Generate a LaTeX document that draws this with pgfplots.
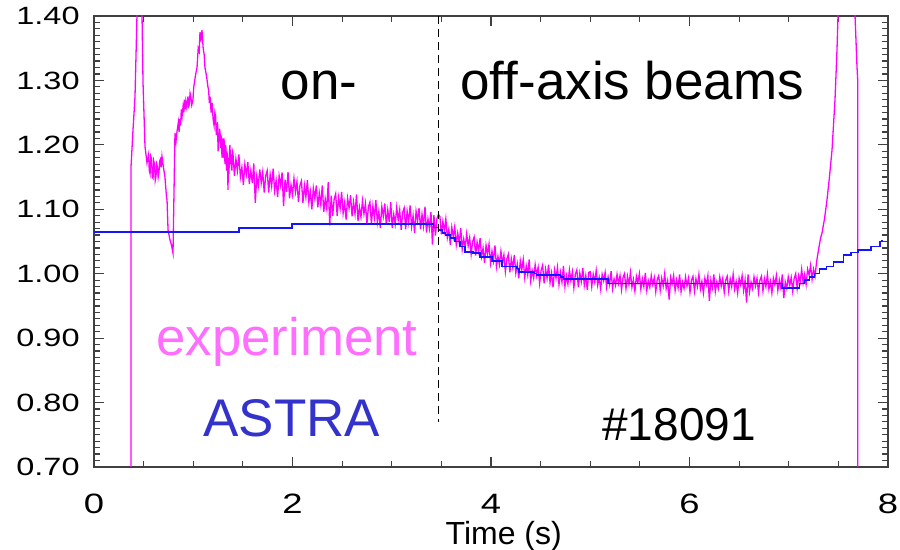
\documentclass[border=0pt]{standalone}
\usepackage{pgfplots}
\pgfplotsset{compat=1.18}
\usepackage{fontspec}
\setmainfont{Liberation Sans}
\newfontfamily\tickfont{Liberation Sans}[FakeStretch=1.3]
\definecolor{expmag}{RGB}{255,0,255}
\definecolor{exptext}{RGB}{255,110,255}
\definecolor{astrablue}{RGB}{20,20,255}
\definecolor{astratext}{RGB}{51,51,204}
\begin{document}
\begin{tikzpicture}
\begin{axis}[
  name=ax, at={(0,0)}, anchor=south west,
  scale only axis, width=397pt, height=225.5pt,
  xmin=0, xmax=8, ymin=0.70, ymax=1.40,
  xtick={0,2,4,6,8}, minor x tick num=3,
  ytick={0.7,0.8,0.9,1.0,1.1,1.2,1.3,1.4}, minor y tick num=9,
  tick align=inside,
  major tick length=5pt, minor tick length=3pt,
  axis line style={black!75, line width=0.6pt},
  every tick/.style={black!75, line width=0.6pt},
  /pgf/number format/assume math mode=true,
  yticklabel style={font=\tickfont\fontsize{12.5}{14}\selectfont, inner sep=0pt, anchor=east, xshift=-7pt,
    /pgf/number format/.cd, fixed, fixed zerofill, precision=2},
  xticklabel style={font=\tickfont\fontsize{14}{16}\selectfont, inner sep=0pt, anchor=north, yshift=-13.5pt},
  xlabel={Time (s)},
  xlabel style={at={(axis description cs:0.516,0)}, anchor=base, inner sep=0pt, yshift=-39pt,
    font=\fontsize{16}{18}\selectfont},
]
% experiment
\addplot[expmag, line width=0.65pt] coordinates {
(0.373,0.60) (0.373,1.166) (0.393,1.223) (0.413,1.274) (0.433,1.40) (0.44,1.50) (0.47,1.50)
(0.484,1.40) (0.494,1.296) (0.514,1.197) (0.534,1.172)
(0.55,1.185) (0.557,1.160) (0.565,1.155) (0.572,1.182) (0.58,1.178) (0.587,1.150) (0.595,1.148)
(0.602,1.175) (0.61,1.170) (0.617,1.145) (0.625,1.152) (0.632,1.170) (0.64,1.165) (0.647,1.150)
(0.655,1.158) (0.662,1.175) (0.67,1.178) (0.677,1.165) (0.685,1.182) (0.70,1.165) (0.715,1.150)
(0.73,1.12) (0.736,1.114) (0.746,1.068) (0.756,1.06) (0.766,1.052) (0.78,1.045) (0.796,1.032)
(0.80,1.07) (0.816,1.218) (0.826,1.205) (0.836,1.22) (0.85,1.235) (0.857,1.22) (0.865,1.24)
(0.872,1.23) (0.88,1.255) (0.888,1.245) (0.897,1.259) (0.905,1.25) (0.91,1.27) (0.918,1.255)
(0.925,1.268) (0.935,1.258) (0.947,1.275) (0.955,1.26) (0.96,1.262) (0.968,1.28) (0.975,1.275)
(0.985,1.262) (0.997,1.27) (1.005,1.29) (1.015,1.30) (1.025,1.31) (1.038,1.32) (1.05,1.35)
(1.06,1.345) (1.068,1.375) (1.078,1.365) (1.088,1.378) (1.10,1.35) (1.11,1.34) (1.118,1.32)
(1.13,1.31) (1.14,1.30) (1.148,1.29) (1.155,1.285) (1.162,1.265) (1.169,1.275) (1.18,1.25)
(1.19,1.265) (1.20,1.24) (1.21,1.23) (1.218,1.25) (1.225,1.245) (1.232,1.215) (1.239,1.228)
(1.245,1.235) (1.25,1.19) (1.255,1.21) (1.26,1.205) (1.265,1.225) (1.27,1.22) (1.275,1.195)
(1.28,1.215) (1.285,1.20) (1.29,1.18) (1.295,1.21) (1.30,1.197) (1.305,1.18) (1.31,1.21)
(1.315,1.19) (1.32,1.17) (1.325,1.20) (1.33,1.195) (1.335,1.16) (1.34,1.19) (1.345,1.175)
(1.35,1.13) (1.355,1.18) (1.36,1.155) (1.365,1.19) (1.37,1.20) (1.375,1.17) (1.38,1.185)
(1.385,1.165) (1.39,1.16) (1.395,1.19)
(1.400,1.187) (1.415,1.152) (1.430,1.178) (1.445,1.160) (1.460,1.185) (1.475,1.150) (1.490,1.165)
(1.505,1.138) (1.520,1.170) (1.535,1.154) (1.550,1.173) (1.565,1.139) (1.580,1.160) (1.595,1.141)
(1.610,1.171) (1.625,1.110) (1.640,1.151) (1.655,1.136) (1.670,1.162) (1.685,1.141) (1.700,1.158)
(1.715,1.126) (1.730,1.152) (1.745,1.160) (1.760,1.126) (1.775,1.154) (1.790,1.136) (1.805,1.163)
(1.820,1.129) (1.835,1.145) (1.850,1.119) (1.865,1.152) (1.880,1.137) (1.895,1.157) (1.910,1.105)
(1.925,1.146) (1.940,1.127) (1.955,1.158) (1.970,1.117) (1.985,1.138) (2.000,1.123) (2.015,1.148)
(2.030,1.127) (2.045,1.143) (2.060,1.111) (2.075,1.137) (2.090,1.144) (2.105,1.110) (2.120,1.137)
(2.135,1.119) (2.150,1.145) (2.165,1.111) (2.180,1.127) (2.195,1.100) (2.210,1.133) (2.225,1.117)
(2.240,1.137) (2.255,1.103) (2.270,1.125) (2.285,1.107) (2.300,1.137) (2.315,1.096) (2.330,1.116)
(2.345,1.101) (2.360,1.142) (2.375,1.075) (2.390,1.121) (2.405,1.090) (2.420,1.116) (2.435,1.124)
(2.450,1.090) (2.465,1.118) (2.480,1.101) (2.495,1.127) (2.510,1.094) (2.525,1.110) (2.540,1.084)
(2.555,1.117) (2.570,1.102) (2.585,1.122) (2.600,1.089) (2.615,1.111) (2.630,1.093) (2.645,1.123)
(2.660,1.082) (2.675,1.103) (2.690,1.088) (2.705,1.113) (2.720,1.093) (2.735,1.109) (2.750,1.077)
(2.765,1.104) (2.780,1.111) (2.795,1.077) (2.810,1.105) (2.825,1.087) (2.840,1.114) (2.855,1.080)
(2.870,1.097) (2.885,1.071) (2.900,1.104) (2.915,1.089) (2.930,1.109) (2.945,1.076) (2.960,1.099)
(2.975,1.080) (2.990,1.111) (3.005,1.071) (3.020,1.092) (3.035,1.077) (3.050,1.103) (3.065,1.083)
(3.080,1.099) (3.095,1.068) (3.110,1.095) (3.125,1.102) (3.140,1.069) (3.155,1.097) (3.170,1.080)
(3.185,1.106) (3.200,1.073) (3.215,1.090) (3.230,1.063) (3.245,1.097) (3.260,1.082) (3.275,1.102)
(3.290,1.069) (3.305,1.092) (3.320,1.074) (3.335,1.104) (3.350,1.064) (3.365,1.085) (3.380,1.070)
(3.395,1.096) (3.410,1.045) (3.425,1.091) (3.440,1.059) (3.455,1.085) (3.470,1.092)
(3.485,1.089) (3.500,1.061) (3.515,1.081) (3.530,1.066) (3.545,1.085) (3.560,1.056) (3.575,1.069)
(3.590,1.045) (3.605,1.072) (3.620,1.057) (3.635,1.073) (3.650,1.045) (3.665,1.063) (3.680,1.048)
(3.695,1.071) (3.710,1.038) (3.725,1.054) (3.740,1.041) (3.755,1.062) (3.770,1.043) (3.785,1.056)
(3.800,1.030) (3.815,1.050) (3.830,1.057) (3.845,1.028) (3.860,1.049) (3.875,1.035) (3.890,1.055)
(3.905,1.027) (3.920,1.040) (3.935,1.017) (3.950,1.044) (3.965,1.030) (3.980,1.046) (3.995,1.017)
(4.010,1.035) (4.025,1.020) (4.040,1.044) (4.055,1.011) (4.070,1.027) (4.085,1.014) (4.100,1.035)
(4.115,1.016) (4.130,1.029) (4.145,1.003) (4.160,1.023) (4.175,1.030) (4.190,1.002) (4.205,1.023)
(4.220,1.009) (4.235,1.029) (4.250,1.001) (4.265,1.015) (4.280,0.993) (4.295,1.020) (4.310,1.006)
(4.325,1.022) (4.340,0.994) (4.355,1.012) (4.370,0.998) (4.385,1.022) (4.400,0.989) (4.415,1.005)
(4.430,0.993) (4.445,1.014) (4.460,0.997) (4.475,1.010) (4.490,0.985) (4.505,1.005) (4.520,1.013)
(4.535,0.985) (4.550,1.007) (4.565,0.993) (4.580,1.014) (4.595,0.986) (4.610,1.001) (4.625,0.979)
(4.640,1.006) (4.655,0.993) (4.670,1.010) (4.685,0.983) (4.700,1.002) (4.715,0.987) (4.730,1.012)
(4.745,0.980) (4.760,0.997) (4.775,0.984) (4.790,1.006) (4.805,0.989) (4.820,1.003) (4.835,0.978)
(4.850,0.999) (4.865,1.006) (4.880,0.979) (4.895,1.001) (4.910,0.988) (4.925,1.009) (4.940,0.982)
(4.955,0.997) (4.970,0.975) (4.985,1.002)
(5.000,1.003) (5.015,0.980) (5.030,0.999) (5.045,0.987) (5.060,1.005) (5.075,0.982) (5.090,0.994)
(5.105,0.976) (5.120,0.999) (5.135,0.989) (5.150,1.002) (5.165,0.979) (5.180,0.995) (5.195,0.983)
(5.210,1.004) (5.225,0.977) (5.240,0.992) (5.255,0.982) (5.270,0.999) (5.285,0.985) (5.300,0.997)
(5.315,0.975) (5.330,0.994) (5.345,1.000) (5.360,0.977) (5.375,0.996) (5.390,0.983) (5.405,1.002)
(5.420,0.979) (5.435,0.991) (5.450,0.973) (5.465,0.996) (5.480,0.986) (5.495,1.000) (5.510,0.976)
(5.525,0.992) (5.540,0.980) (5.555,1.001) (5.570,0.974) (5.585,0.989) (5.600,0.979) (5.615,0.997)
(5.630,0.983) (5.645,0.994) (5.660,0.972) (5.675,0.991) (5.690,0.997) (5.705,0.974) (5.720,0.993)
(5.735,0.981) (5.750,1.000) (5.765,0.977) (5.780,0.989) (5.795,0.960) (5.810,0.994) (5.825,0.984)
(5.840,0.997) (5.855,0.974) (5.870,0.990) (5.885,0.978) (5.900,0.999) (5.915,0.972) (5.930,0.987)
(5.945,0.977) (5.960,0.995) (5.975,0.981) (5.990,0.993) (6.005,0.971) (6.020,0.990) (6.035,0.996)
(6.050,0.973) (6.065,0.992) (6.080,0.980) (6.095,0.999) (6.110,0.976) (6.125,0.988) (6.140,0.970)
(6.155,0.993) (6.170,0.983) (6.185,0.997) (6.200,0.958) (6.215,0.990) (6.230,0.978) (6.245,0.999)
(6.260,0.972) (6.275,0.987) (6.290,0.977) (6.305,0.995) (6.320,0.981) (6.335,0.993) (6.350,0.971)
(6.365,0.990) (6.380,0.996) (6.395,0.973) (6.410,0.992) (6.425,0.980) (6.440,0.999) (6.455,0.976)
(6.470,0.988) (6.485,0.970) (6.500,0.993) (6.515,0.983) (6.530,0.997) (6.545,0.974) (6.560,0.990)
(6.575,0.955) (6.590,0.999) (6.605,0.972) (6.620,0.987) (6.635,0.977) (6.650,0.995) (6.665,0.981)
(6.680,0.993) (6.695,0.971) (6.710,0.990) (6.725,0.996) (6.740,0.973) (6.755,0.992) (6.770,0.980)
(6.785,0.999) (6.800,0.976) (6.815,0.988) (6.830,0.970) (6.845,0.993) (6.860,0.983) (6.875,0.997)
(6.890,0.974) (6.905,0.990) (6.920,0.978) (6.935,0.999) (6.950,0.962) (6.965,0.987) (6.980,0.977)
(6.995,0.995) (7.010,0.982) (7.025,0.994) (7.040,0.973) (7.055,0.993) (7.070,1.000) (7.085,0.977)
(7.100,0.997) (7.115,0.987) (7.130,1.007) (7.145,0.986) (7.160,0.999) (7.175,0.983) (7.190,1.007)
(7.205,0.998) (7.220,1.013) (7.235,0.991) (7.250,1.007) (7.265,0.996) (7.280,1.018)
(7.30,1.037) (7.32,1.055) (7.335,1.063) (7.36,1.085) (7.385,1.114) (7.41,1.150) (7.436,1.192)
(7.466,1.27) (7.486,1.347) (7.50,1.42) (7.55,1.60) (7.64,1.60) (7.668,1.40) (7.688,1.32)
(7.695,1.30) (7.695,0.60)
};
% ASTRA
\addplot[const plot, astrablue, line width=0.8pt] coordinates {
(0,1.065) (1.46,1.071) (1.995,1.077) (3.42,1.072) (3.47,1.068) (3.51,1.063) (3.54,1.060)
(3.59,1.055) (3.64,1.050) (3.69,1.042) (3.74,1.034) (3.82,1.032) (3.89,1.026) (4.01,1.020)
(4.11,1.011) (4.26,1.008) (4.28,1.003) (4.44,1.000) (4.46,0.998) (4.70,0.995) (4.73,0.992)
(5.18,0.985) (6.93,0.978) (7.11,0.985) (7.16,0.990) (7.21,0.995) (7.26,1.000) (7.31,1.007)
(7.38,1.011) (7.45,1.018) (7.55,1.029) (7.63,1.033) (7.70,1.037) (7.83,1.042) (7.92,1.050) (7.94,1.052)
};
% separator
\addplot[black, line width=0.8pt, dash pattern=on 4pt off 2.5pt] coordinates {(3.47,1.40) (3.47,0.77)};
\node[anchor=base west, inner sep=0pt, font=\fontsize{26.5}{30}\selectfont] at (axis cs:1.88,1.2696) {on-};
\node[anchor=base west, inner sep=0pt, font=\fontsize{26.5}{30}\selectfont] at (axis cs:3.688,1.2696) {off-axis beams};
\node[anchor=base west, inner sep=0pt, font=\fontsize{26.4}{30}\selectfont, text=exptext] at (axis cs:0.625,0.8736) {experiment};
\node[anchor=base west, inner sep=0pt, font=\fontsize{26.5}{30}\selectfont, text=astratext] at (axis cs:1.098,0.7478) {ASTRA};
\node[anchor=base west, inner sep=0pt, font=\fontsize{23}{26}\selectfont] at (axis cs:5.118,0.7416) {\#18091};
\end{axis}
\pgfresetboundingbox
\useasboundingbox ([shift={(-47pt,-41.5pt)}]ax.south west) rectangle ([shift={(6pt,8pt)}]ax.north east);
\end{tikzpicture}
\end{document}
